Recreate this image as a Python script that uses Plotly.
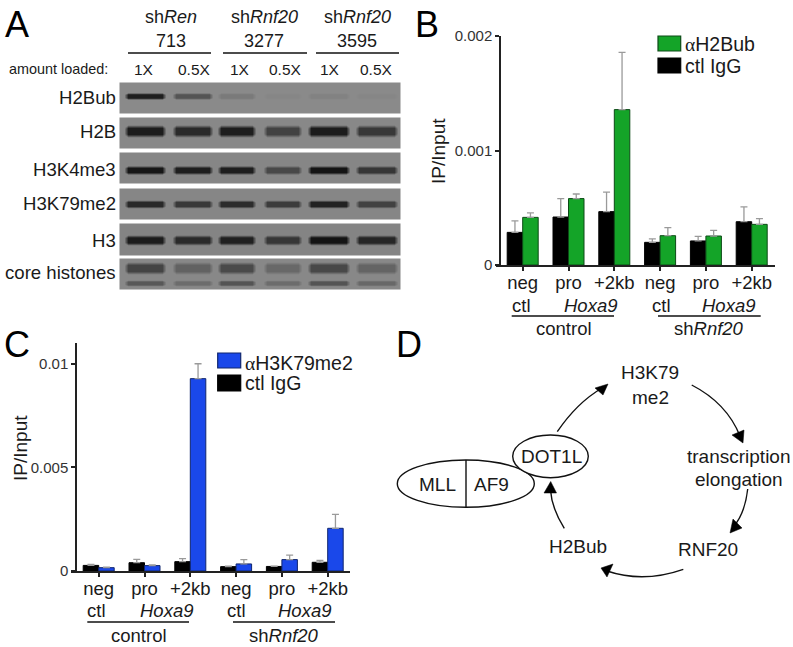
"""Histone blots, IP/Input bar charts and pathway sketch, as one figure."""

import numpy as np
import plotly.graph_objects as go

WIDTH = 793
HEIGHT = 647
FONT = "Liberation Sans"

# Panel B
sites = ["neg", "pro", "+2kb", "neg", "pro", "+2kb"]
b_igg = [0.000285, 0.000419, 0.000466, 0.000198, 0.00021, 0.000378]
b_igg_err = [0.0001, 0.00016, 0.00017, 0.00003, 0.00004, 0.00013]
b_h2bub = [0.000416, 0.00058, 0.001357, 0.000256, 0.000253, 0.000355]
b_h2bub_err = [0.00004, 0.00004, 0.0005, 0.00007, 0.00005, 0.00005]

# Panel C
c_igg = [0.00027, 0.0004, 0.00045, 0.00021, 0.00022, 0.00042]
c_igg_err = [0.00005, 0.00016, 0.00015, 0.00003, 0.00002, 0.00009]
c_h3k79 = [0.00016, 0.00026, 0.00928, 0.00034, 0.00055, 0.00206]
c_h3k79_err = [0.00003, 0.00003, 0.00072, 0.00021, 0.00022, 0.00067]

# Panel A: gel strips, core grey of each lane's band (lower is darker)
blot_names = ["H2Bub", "H2B", "H3K4me3", "H3K79me2", "H3", "core histones"]
h2bub_lanes = [30, 84, 122, 134, 130, 134]
h2b_lanes = [28, 42, 30, 66, 28, 56]
h3k4me3_lanes = [22, 30, 30, 72, 20, 54]
h3k79me2_lanes = [40, 56, 44, 60, 34, 66]
h3_lanes = [28, 42, 32, 54, 20, 38]
core_upper_lanes = [68, 98, 74, 104, 72, 100]
core_lower_lanes = [88, 108, 84, 108, 84, 104]
lane_left = [124, 172, 217, 263, 307, 355]
lane_right = [166, 213, 256, 302, 350, 398]


def gel_strip(top, bottom, bg, bands):
    """Grey image of one blot strip; bands are (centre y, thickness, lane greys)"""
    xs = np.arange(120, 401)
    ys = np.arange(top, bottom + 1)
    z = np.full((len(ys), len(xs)), float(bg))
    for centre, thick, greys in bands:
        for left, right, grey in zip(lane_left, lane_right, greys):
            wx = np.clip(np.minimum(xs - left, right - xs) / 4.0, 0, 1)
            half = thick / 2 * (0.65 + 0.35 * wx)
            for i, y in enumerate(ys):
                wy = np.clip((1.4 - np.abs(y - centre) / half) / 0.7, 0, 1)
                z[i] -= (bg - grey) * wx * wy
    return go.Heatmap(x=xs, y=ys, z=z, xaxis="x3", yaxis="y3", zmin=0, zmax=255,
                      colorscale=[[0, "black"], [1, "white"]], showscale=False,
                      hoverinfo="skip")


fig = go.Figure()

strips = [
    (83, 113, 138, [(96, 5, h2bub_lanes)]),
    (118, 148, 136, [(131, 9, h2b_lanes)]),
    (153, 183, 134, [(170, 6.5, h3k4me3_lanes)]),
    (189, 219, 134, [(204, 6, h3k79me2_lanes)]),
    (224, 255, 132, [(240, 7.5, h3_lanes)]),
    (259, 289, 136, [(268, 9, core_upper_lanes), (283, 4.5, core_lower_lanes)]),
]
for top, bottom, bg, bands in strips:
    fig.add_trace(gel_strip(top, bottom, bg, bands))


def add_bars(values, errors, color, edge, xaxis, yaxis):
    fig.add_trace(go.Bar(
        x=list(range(6)), y=values, xaxis=xaxis, yaxis=yaxis,
        marker=dict(color=color, line=dict(color=edge, width=1)),
        error_y=dict(type="data", symmetric=False, array=errors,
                     arrayminus=[0] * 6, color="#9a9a9a", thickness=1.3, width=3.5),
        showlegend=False,
    ))


add_bars(b_igg, b_igg_err, "black", "black", "x", "y")
add_bars(b_h2bub, b_h2bub_err, "#14a428", "#0c4a16", "x", "y")
add_bars(c_igg, c_igg_err, "black", "black", "x2", "y2")
add_bars(c_h3k79, c_h3k79_err, "#1a48ea", "#10266e", "x2", "y2")

annotations = []
shapes = []


def text(x, y, s, size=18.5, anchor="center", angle=0, color="#1a1a1a"):
    annotations.append(dict(x=x, y=y, text=s, xref="x3", yref="y3", showarrow=False,
                            xanchor=anchor, yanchor="middle", textangle=angle,
                            font=dict(family=FONT, size=size, color=color)))


def rule(x0, x1, y, width=1.5):
    shapes.append(dict(type="line", xref="x3", yref="y3", x0=x0, x1=x1, y0=y, y1=y,
                       line=dict(color="#111111", width=width)))


def swatch(x0, x1, y0, y1, color, edge):
    shapes.append(dict(type="rect", xref="x3", yref="y3", x0=x0, x1=x1, y0=y0, y1=y1,
                       fillcolor=color, line=dict(color=edge, width=1.2)))


# Panel letters
text(3, 24, "A", 36, "left", color="black")
text(413, 24, "B", 36, "left", color="black")
text(2, 344, "C", 36, "left", color="black")
text(394, 344, "D", 36, "left", color="black")

# Panel A labels
for cx, name, num in [(170.7, "Ren", "713"), (264, "Rnf20", "3277"), (357, "Rnf20", "3595")]:
    text(cx, 17, f"sh<i>{name}</i>", 18)
    text(cx, 41, num, 18)
rule(128, 211, 53)
rule(223, 307, 53)
rule(316, 399, 53)
text(7, 69, "amount loaded:", 14.4, "left")
for cx, s in zip([144, 194, 240, 285, 330, 376], ["1X", "0.5X"] * 3):
    text(cx, 69, s, 15.5)
for cy, s in zip([97, 131, 169, 203, 240, 272], blot_names):
    text(117.5, cy, s, 18.6, "right")

# Panel B labels
text(438, 151, "IP/Input", 19, angle=-90)
for cx, s in [(521, "ctl"), (590, "<i>Hoxa9</i>"), (661, "ctl"), (728, "<i>Hoxa9</i>")]:
    text(cx, 305, s)
rule(511.7, 614, 316)
rule(658, 760.7, 316)
text(564, 328, "control")
text(709, 328, "sh<i>Rnf20</i>")
swatch(658, 680.7, 36, 51, "#14a428", "#0c4a16")
swatch(658, 680.7, 58, 73, "black", "black")
text(683, 43.5, '<span style="font-family:Liberation Serif">α</span>H2Bub', 19.5, "left")
text(683, 66, "ctl IgG", 19.5, "left")

# Panel C labels
text(20, 448, "IP/Input", 19, angle=-90)
for cx, s in [(96.7, "ctl"), (166, "<i>Hoxa9</i>"), (236, "ctl"), (304, "<i>Hoxa9</i>")]:
    text(cx, 610.5, s)
rule(87.3, 189, 622)
rule(233, 335, 622)
text(139, 635, "control")
text(284, 635, "sh<i>Rnf20</i>")
swatch(217.7, 240.7, 353, 368, "#1a48ea", "#10266e")
swatch(217.7, 240.7, 375, 391, "black", "black")
text(243, 362.5, '<span style="font-family:Liberation Serif">α</span>H3K79me2', 19.5, "left")
text(243, 382.5, "ctl IgG", 19.5, "left")

# Panel D sketch: complex ovals, then the cycle's arcs and arrow heads
shapes.append(dict(type="circle", xref="x3", yref="y3", x0=397.3, x1=534.3, y0=460, y1=507.3,
                   fillcolor="white", line=dict(color="#111111", width=1.4)))
shapes.append(dict(type="line", xref="x3", yref="y3", x0=466, x1=466, y0=460, y1=507.3,
                   line=dict(color="#111111", width=1.4)))
shapes.append(dict(type="circle", xref="x3", yref="y3", x0=512.7, x1=588.3, y0=435, y1=477.7,
                   fillcolor="white", line=dict(color="#111111", width=1.4)))

arcs = [
    "M 557.3 431.7 Q 576.7 403 602 388",
    "M 691.7 385 Q 726.7 403 740 436",
    "M 747.7 489 Q 745 513 734 526",
    "M 683.3 569.3 Q 643.3 583.3 607 571",
    "M 564.3 528.3 Q 551.7 508.3 550.5 490",
]
heads = [
    "M 608 384 L 595 388 L 603 395 Z",
    "M 743 443 L 732 435 L 744 430 Z",
    "M 730 533 L 733 519 L 742 528 Z",
    "M 601 568 L 613 564 L 607 577 Z",
    "M 550.7 481.5 L 544 493 L 556.5 493 Z",
]
for path in arcs:
    shapes.append(dict(type="path", xref="x3", yref="y3", path=path,
                       line=dict(color="#111111", width=1.4)))
for path in heads:
    shapes.append(dict(type="path", xref="x3", yref="y3", path=path, fillcolor="black",
                       line=dict(color="black", width=0.5)))

text(650, 372.5, "H3K79", 19)
text(650, 397, "me2", 19)
text(739, 456, "transcription", 19)
text(739, 479.5, "elongation", 19)
text(708, 549, "RNF20", 19)
text(578, 546, "H2Bub", 19)
text(551.7, 456, "DOT1L", 19)
text(437.7, 484, "MLL", 19)
text(491.7, 484, "AF9", 19)


def x_axis(x0, x1, centre, y_name):
    step = 45.8
    return dict(
        domain=[x0 / WIDTH, x1 / WIDTH],
        range=[(x0 - centre) / step, (x1 - centre) / step],
        anchor=y_name, tickmode="array", tickvals=list(range(6)), ticktext=sites,
        ticks="outside", ticklen=4, tickwidth=1.5, tickcolor="#222222",
        showline=True, linecolor="#222222", linewidth=1.5, showgrid=False, zeroline=False,
        tickfont=dict(family=FONT, size=18.5, color="#1a1a1a"), ticklabelstandoff=-4,
    )


def y_axis(top, bottom, ymax, ticks, labels, x_pos):
    return dict(
        domain=[1 - bottom / HEIGHT, 1 - top / HEIGHT],
        range=[0, ymax], anchor="free", position=x_pos / WIDTH,
        tickmode="array", tickvals=ticks, ticktext=labels,
        ticks="outside", ticklen=4, tickwidth=1.5, tickcolor="#222222",
        showline=True, linecolor="#222222", linewidth=1.5, showgrid=False, zeroline=False,
        tickfont=dict(family=FONT, size=15, color="#333333"),
    )


fig.update_layout(
    width=WIDTH, height=HEIGHT,
    margin=dict(l=0, r=0, t=0, b=0, autoexpand=False),
    paper_bgcolor="white", plot_bgcolor="rgba(0,0,0,0)",
    showlegend=False, barmode="group", bargap=0.323, bargroupgap=0,
    xaxis=x_axis(496, 775, 522.7, "y"),
    yaxis=y_axis(36, 265, 0.002, [0, 0.001, 0.002], ["0", "0.001", "0.002"], 500),
    xaxis2=x_axis(71, 350, 98.7, "y2"),
    yaxis2=y_axis(343, 571, 0.011, [0, 0.005, 0.01], ["0", "0.005", "0.01"], 76),
    # page-sized overlay so labels and the sketch can be placed in pixels
    xaxis3=dict(domain=[0, 1], range=[0, WIDTH], visible=False, anchor="y3"),
    yaxis3=dict(domain=[0, 1], range=[HEIGHT, 0], visible=False, anchor="x3"),
    annotations=annotations, shapes=shapes,
)

fig.write_html("out.html", config=dict(displayModeBar=False),
               post_script="document.body.style.margin='0';")
